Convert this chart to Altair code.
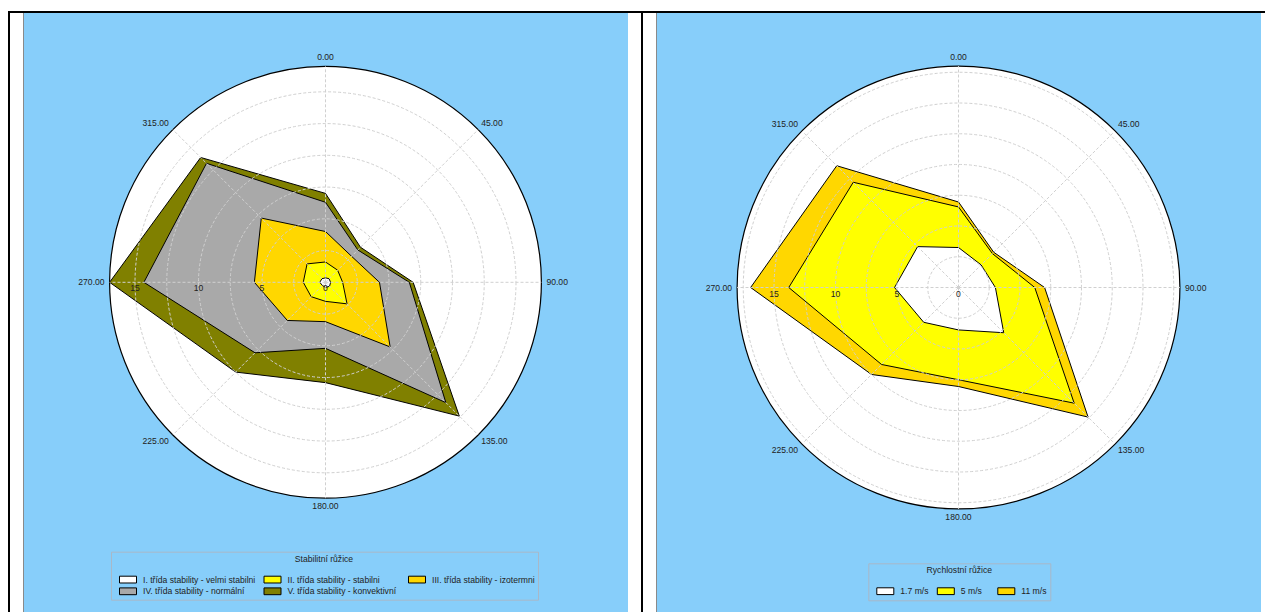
import altair as alt
import pandas as pd

# ---------------- data ----------------
directions = [0, 45, 90, 135, 180, 225, 270, 315]
direction_labels = ["0.00", "45.00", "90.00", "135.00", "180.00", "225.00", "270.00", "315.00"]
radial_ticks = [0, 5, 10, 15]

stability_classes = [
    "I. třída stability - velmi stabilni",
    "II. třída stability - stabilni",
    "III. třída stability - izotermni",
    "IV. třída stability - normální",
    "V. třída stability - konvektivní",
]
stability_colors = ["#FFFFFF", "#FFFF00", "#FFD700", "#A9A9A9", "#808000"]
class_I = [0.35, 0.40, 0.40, 0.45, 0.40, 0.35, 0.45, 0.40]
class_II = [1.25, 0.95, 0.95, 1.95, 1.10, 1.25, 1.30, 1.65]
class_III = [2.40, 1.55, 2.90, 4.80, 1.60, 2.65, 3.85, 5.10]
class_IV = [2.30, 0.70, 2.35, 6.20, 2.10, 3.60, 8.70, 6.10]
class_V = [0.70, 0.30, 0.30, 1.50, 2.70, 2.15, 2.70, 0.65]

speed_classes = ["1.7 m/s", "5 m/s", "11 m/s"]
speed_colors = ["#FFFFFF", "#FFFF00", "#FFD700"]
speed_1_7 = [3.25, 2.60, 3.00, 5.20, 3.45, 4.00, 5.20, 4.70]
speed_5 = [3.30, 1.30, 3.20, 8.10, 4.05, 4.85, 8.60, 7.40]
speed_11 = [0.40, 0.15, 0.80, 1.60, 0.55, 1.15, 3.10, 1.90]

grid_left = [2.5, 5, 7.5, 10, 12.5, 15]
grid_right = [2.5, 5, 7.5, 10, 12.5, 15, 17.5]
rmax_left = 17
rmax_right = 18

# ---------------- style / layout ----------------
W, H = 1265, 612
FONT = "Liberation Sans"
FS = 8.6
TXT = "#222222"
BLUE = "#87CEFA"
GRID = "#d0d0d0"


def long_table(classes, series):
    rows = []
    for k, (name, vals) in enumerate(zip(classes, series)):
        for d, v in zip(directions, vals):
            rows.append({"dir": d, "k": k, "cls": name, "value": v})
    return pd.DataFrame(rows)


def one_row():
    return pd.DataFrame({"z": [0]})


def rect(x, x2, y, y2, color):
    return alt.Chart(one_row()).mark_rect(color=color).encode(
        x=alt.value(x), x2=alt.value(x2), y=alt.value(y), y2=alt.value(y2)
    )


label_specs = {
    0: ("center", "bottom", 0, -4),
    45: ("left", "bottom", 3, -2),
    90: ("left", "middle", 5, 0),
    135: ("left", "top", 3, 2),
    180: ("center", "top", 0, 4),
    225: ("right", "top", -4, 2),
    270: ("right", "middle", -5, 0),
    315: ("right", "bottom", -4, -2),
}


def polar_layers(df, classes, colors, rmax, grid, cx, cy, ppu,
                 legend_title, legend_x, legend_y):
    xs = alt.Scale(domain=[-cx / ppu, (W - cx) / ppu], nice=False, zero=False)
    ys = alt.Scale(domain=[-(H - cy) / ppu, cy / ppu], nice=False, zero=False)
    diam = 2 * rmax * ppu
    ss = alt.Scale(type="pow", exponent=2, domain=[0, rmax], range=[0, diam * diam],
                   zero=True, nice=False)

    def XF(f):
        return alt.X(f, scale=xs, axis=None)

    def YF(f):
        return alt.Y(f, scale=ys, axis=None)

    layers = []
    # white disk with black outline
    layers.append(
        alt.Chart(pd.DataFrame({"r": [rmax]}))
        .transform_calculate(cx0="0", cy0="0")
        .mark_point(shape="circle", filled=True, fill="white", stroke="black",
                    strokeWidth=1.2, opacity=1)
        .encode(x=XF("cx0:Q"), y=YF("cy0:Q"), size=alt.Size("r:Q", scale=ss, legend=None))
    )

    # stacked polygons (outermost first)
    base = (
        alt.Chart(df)
        .transform_window(cum="sum(value)", groupby=["dir"], sort=[alt.SortField("k")])
        .transform_calculate(
            px="datum.cum*sin(datum.dir*PI/180)",
            py="datum.cum*cos(datum.dir*PI/180)",
        )
    )
    for k in reversed(range(len(classes))):
        layers.append(
            base.transform_filter(f"datum.k == {k}")
            .mark_line(interpolate="linear-closed", stroke="black", strokeWidth=1,
                       fill=colors[k], opacity=1)
            .encode(x=XF("px:Q"), y=YF("py:Q"), order=alt.Order("dir:Q"))
        )

    # dashed grid circles
    layers.append(
        alt.Chart(pd.DataFrame({"r": grid}))
        .transform_calculate(cx0="0", cy0="0")
        .mark_point(shape="circle", filled=False, stroke=GRID, strokeWidth=1,
                    strokeDash=[3, 2], opacity=1)
        .encode(x=XF("cx0:Q"), y=YF("cy0:Q"), size=alt.Size("r:Q", scale=ss, legend=None))
    )
    # dashed spokes
    layers.append(
        alt.Chart(pd.DataFrame({"dir": directions}))
        .transform_calculate(
            x0="0", y0="0",
            x1=f"{rmax}*sin(datum.dir*PI/180)", y1=f"{rmax}*cos(datum.dir*PI/180)",
        )
        .mark_rule(color=GRID, strokeWidth=1, strokeDash=[3, 2])
        .encode(x=XF("x0:Q"), y=YF("y0:Q"), x2="x1:Q", y2="y1:Q")
    )
    # radial tick labels
    layers.append(
        alt.Chart(pd.DataFrame({"v": radial_ticks}))
        .transform_calculate(tx="-datum.v", ty="0")
        .mark_text(align="center", baseline="top", dy=2, font=FONT, fontSize=FS, color=TXT)
        .encode(x=XF("tx:Q"), y=YF("ty:Q"), text=alt.Text("v:Q", format="d"))
    )
    # angle labels
    lab_df = pd.DataFrame({"dir": directions, "lab": direction_labels})
    for d, (al, bl, dx, dy) in label_specs.items():
        layers.append(
            alt.Chart(lab_df)
            .transform_filter(f"datum.dir == {d}")
            .transform_calculate(
                lx=f"{rmax}*sin(datum.dir*PI/180)", ly=f"{rmax}*cos(datum.dir*PI/180)"
            )
            .mark_text(align=al, baseline=bl, dx=dx, dy=dy, font=FONT, fontSize=FS, color=TXT)
            .encode(x=XF("lx:Q"), y=YF("ly:Q"), text="lab:N")
        )

    # legend carrier (invisible marks, visible legend)
    legend = alt.Legend(
        title=legend_title, orient="none", legendX=legend_x, legendY=legend_y,
        direction="horizontal", columns=3, gridAlign="all",
        symbolType="M-2,-0.8H2V0.8H-2Z", symbolSize=72.25,
        symbolStrokeWidth=1, symbolStrokeColor="black", symbolOpacity=1,
        symbolOffset=9, labelOffset=10,
        labelFont=FONT, labelFontSize=FS, labelColor=TXT, labelLimit=400,
        titleFont=FONT, titleFontSize=FS, titleFontWeight="normal", titleColor=TXT,
        titleAnchor="middle", titleAlign="center", titlePadding=11,
        fillColor=BLUE, strokeColor="#a8b8c8", padding=3,
        columnPadding=2.5, rowPadding=0,
    )
    layers.append(
        alt.Chart(pd.DataFrame({"cls": classes}))
        .mark_point(shape="square", filled=True, size=0, opacity=1)
        .encode(
            x=alt.value(-50), y=alt.value(-50),
            fill=alt.Fill("cls:N", scale=alt.Scale(domain=classes, range=colors), legend=legend),
        )
    )
    return layers


layers = [
    rect(8, W, 11, 13, "black"),
    rect(8, 10, 11, H, "black"),
    rect(641, 643, 11, H, "black"),
    rect(23, 24, 13, H, "#8a8a8a"),
    rect(656, 657, 13, H, "#8a8a8a"),
    rect(24, 628, 13, H, BLUE),
    rect(657, 1261, 13, H, BLUE),
]
layers += polar_layers(
    long_table(stability_classes, [class_I, class_II, class_III, class_IV, class_V]),
    stability_classes, stability_colors, rmax_left, grid_left,
    cx=325.5, cy=282.3, ppu=12.7,
    legend_title="Stabilitní růžice", legend_x=111, legend_y=551.7,
)
layers += polar_layers(
    long_table(speed_classes, [speed_1_7, speed_5, speed_11]),
    speed_classes, speed_colors, rmax_right, grid_right,
    cx=958.5, cy=287.5, ppu=12.3,
    legend_title="Rychlostní růžice", legend_x=868.3, legend_y=563.3,
)

chart = (
    alt.layer(*layers)
    .resolve_scale(x="independent", y="independent", size="independent", fill="independent")
    .resolve_legend(fill="independent")
    .properties(
        width=W, height=H, padding=0, background="white",
        autosize=alt.AutoSizeParams(type="none"),
    )
    .configure_view(strokeWidth=0, strokeOpacity=0)
)

chart.save("out.html", embed_options={"renderer": "svg", "actions": False})
